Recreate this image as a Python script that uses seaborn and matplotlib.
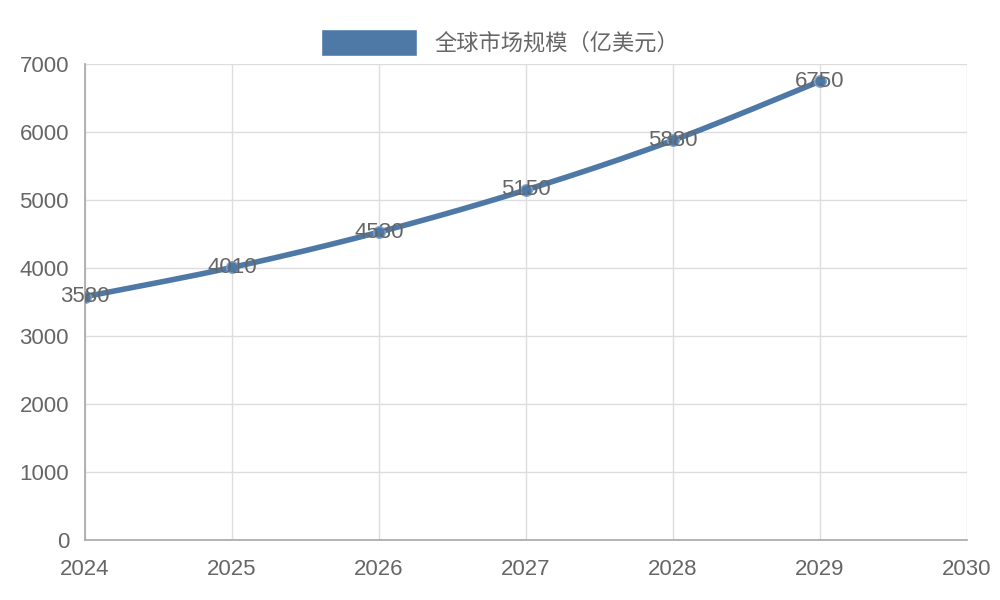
import matplotlib
matplotlib.use("Agg")
import matplotlib.pyplot as plt
import seaborn as sns
import numpy as np
import pandas as pd
from matplotlib.patches import Patch

years = [2024, 2025, 2026, 2027, 2028, 2029]
values = [3580, 4010, 4530, 5150, 5880, 6750]
series_name = "全球市场规模（亿美元）"
color = "#4e79a7"

sns.set_theme(style="white")
plt.rcParams['font.family'] = ['Liberation Sans', 'Noto Sans CJK SC', 'DejaVu Sans']

fig = plt.figure(figsize=(10, 6), dpi=100)
ax = fig.add_axes([0.085, 0.1, 0.882, 0.793])

# smooth curve through points (Catmull-Rom)
x = np.array(years, float); y = np.array(values, float)
xs, ys = [], []
for i in range(len(x) - 1):
    p0 = np.array([x[max(i-1, 0)], y[max(i-1, 0)]])
    p1 = np.array([x[i], y[i]]); p2 = np.array([x[i+1], y[i+1]])
    p3 = np.array([x[min(i+2, len(x)-1)], y[min(i+2, len(x)-1)]])
    t = np.linspace(0, 1, 30)[:, None]
    pts = 0.5*((2*p1) + (-p0+p2)*t + (2*p0-5*p1+4*p2-p3)*t**2 + (-p0+3*p1-3*p2+p3)*t**3)
    xs.extend(pts[:, 0]); ys.extend(pts[:, 1])
df = pd.DataFrame({"x": xs, "y": ys})
sns.lineplot(data=df, x="x", y="y", ax=ax, color=color, linewidth=4, sort=False)
sns.scatterplot(x=years, y=values, ax=ax, color=color, s=70, edgecolor="#7ea6d0", linewidth=1, zorder=3)
for xv, yv in zip(years, values):
    ax.text(xv, yv, str(yv), ha="center", va="center", fontsize=16, color="#666666", zorder=4)

ax.set_xlim(2024, 2030)
ax.set_ylim(0, 7000)
ax.set_xticks(range(2024, 2031))
ax.set_yticks(range(0, 7001, 1000))
ax.grid(True, color="#dddddd", linewidth=1)
ax.set_xlabel(""); ax.set_ylabel("")
ax.tick_params(labelsize=16, colors="#666666", length=8, color="#dddddd")
for s in ["top", "right"]:
    ax.spines[s].set_visible(False)
for s in ["left", "bottom"]:
    ax.spines[s].set_color("#aaaaaa")
ax.tick_params(axis="x", pad=6)

fig.legend(handles=[Patch(facecolor=color, label=series_name)], loc="upper center",
           bbox_to_anchor=(0.5, 0.985), frameon=False, fontsize=16, handlelength=4.3,
           handleheight=1.5, labelcolor="#666666")
fig.savefig("out.png", dpi=100)
